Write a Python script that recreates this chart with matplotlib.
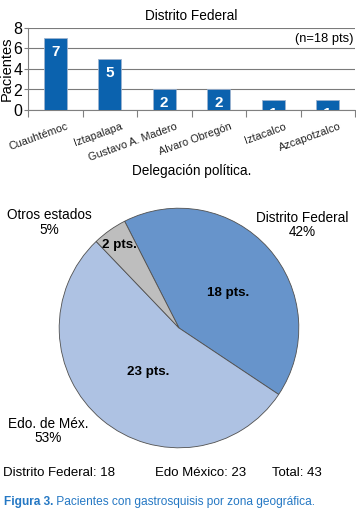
import numpy as np
import matplotlib
matplotlib.use("Agg")
import matplotlib.pyplot as plt

plt.rcParams['font.family'] = ['Liberation Sans', 'DejaVu Sans']

# datos
delegaciones = ['Cuauhtémoc', 'Iztapalapa', 'Gustavo A. Madero',
                'Alvaro Obregón', 'Iztacalco', 'Azcapotzalco']
pacientes = [7, 5, 2, 2, 1, 1]
zonas = ['Distrito Federal', 'Edo. de Méx.', 'Otros estados']
zona_pts = [18, 23, 2]
zona_colores = ['#6794CB', '#AEC2E3', '#BEBEBE']

W, H = 356, 511
fig = plt.figure(figsize=(W / 100, H / 100), dpi=100)


def px(x0, y0, x1, y1):
    # rectangulo en pixeles (origen arriba-izquierda) -> coordenadas de figura
    return [x0 / W, 1 - y1 / H, (x1 - x0) / W, (y1 - y0) / H]


# ---- grafica de barras ----
ax = fig.add_axes(px(28, 28, 355, 110))
x = np.arange(len(delegaciones))
bars = ax.bar(x, pacientes, width=0.42, color='#0B62AE', edgecolor='#9DB3CF',
              linewidth=0.6, zorder=3)
for b, v in zip(bars, pacientes):
    ax.annotate(str(v), (b.get_x() + b.get_width() / 2, v), xytext=(0, -10),
                textcoords='offset points', ha='center', va='center',
                color='white', fontweight='bold', fontsize=11,
                clip_on=True, zorder=4)
ax.set_xlim(-0.5, len(delegaciones) - 0.5)
ax.set_ylim(0, 8)
ax.set_yticks([0, 2, 4, 6, 8])
ax.tick_params(axis='y', labelsize=11.5, length=3, color='#808080', pad=1)
ax.yaxis.grid(True, color='#7A7A7A', linewidth=0.8, zorder=0)
# etiquetas inclinadas, ancladas un poco a la derecha del centro
ax.set_xticks(x + 0.2)
ax.set_xticklabels(delegaciones, rotation=20, ha='right', rotation_mode='anchor',
                   fontsize=7.8, color='#222222')
ax.tick_params(axis='x', length=0, pad=8)
ax.set_xticks(np.arange(len(delegaciones) + 1) - 0.5, minor=True)
ax.tick_params(axis='x', which='minor', length=5, color='#808080', width=0.8)
for s in ['top', 'right']:
    ax.spines[s].set_visible(False)
ax.spines['left'].set_color('#808080')
ax.spines['bottom'].set_color('#808080')
ax.set_title('Distrito Federal', fontsize=9.8, pad=6)
ax.set_ylabel('Pacientes', fontsize=10.5, labelpad=0)
ax.set_xlabel('Delegación política.', fontsize=9.8, labelpad=1)
ax.text(0.995, 0.86, '(n=18 pts)', transform=ax.transAxes, ha='right',
        va='center', fontsize=9.3)

# ---- grafica de pastel ----
r = 121
pax = fig.add_axes(px(179 - r, 328 - r, 179 + r, 328 + r))
pax.pie(zona_pts, colors=zona_colores, startangle=117, counterclock=False,
        wedgeprops=dict(edgecolor='#505050', linewidth=0.6))
pax.set_xlim(-1.01, 1.01)
pax.set_ylim(-1.01, 1.01)

total = sum(zona_pts)
pct = [round(100 * v / total) for v in zona_pts]
etiquetas_pos = [(1.03, 0.86), (-1.09, -0.86), (-1.08, 0.88)]
internas_pos = [(0.41, 0.29), (-0.26, -0.37), (-0.50, 0.69)]
for nombre, p, n, (ex, ey), (ix, iy) in zip(zonas, pct, zona_pts,
                                            etiquetas_pos, internas_pos):
    pax.text(ex, ey, f'{nombre}\n{p}%', ha='center', va='center', fontsize=9.8,
             linespacing=1.05)
    pax.text(ix, iy, f'{n} pts.', ha='center', va='center', fontsize=9.6,
             fontweight='bold')

fig.text(3 / W, 1 - 473 / H, f'Distrito Federal: {zona_pts[0]}', fontsize=9.5,
         va='center')
fig.text(155 / W, 1 - 473 / H, f'Edo México: {zona_pts[1]}', fontsize=9.5,
         va='center')
fig.text(272 / W, 1 - 473 / H, f'Total: {total}', fontsize=9.5, va='center')

azul = '#2578C4'
t = fig.text(4 / W, 1 - 502 / H, 'Figura 3.', fontsize=8.6, color=azul,
             fontweight='bold', va='center')
pax.annotate(' Pacientes con gastrosquisis por zona geográfica.',
             xy=(1, 0.5), xycoords=t, va='center', fontsize=8.6, color=azul,
             annotation_clip=False)

fig.savefig('out.png', dpi=100)
